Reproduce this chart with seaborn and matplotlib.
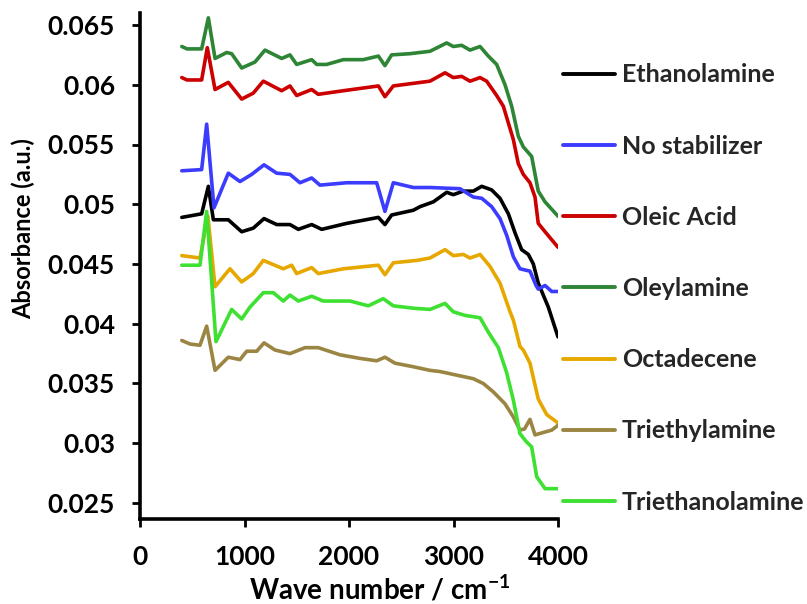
import numpy as np
import pandas as pd
import matplotlib
matplotlib.use("Agg")
import matplotlib.pyplot as plt
import seaborn as sns
from matplotlib.ticker import FuncFormatter

# ---------------- data ----------------
series_names = ["Ethanolamine", "No stabilizer", "Oleic Acid", "Oleylamine",
                "Octadecene", "Triethylamine", "Triethanolamine"]
series_colors = ["#000000", "#3C3CFF", "#CC0000", "#2E8535",
                 "#E6A800", "#9B8543", "#3EE032"]

ethanolamine_x = [400, 590, 654, 702, 845, 973, 1084, 1187, 1308, 1435, 1515, 1643, 1739, 1978,
                  2281, 2344, 2408, 2616, 2680, 2807, 2935, 2998, 3094, 3190, 3270, 3365, 3445,
                  3525, 3589, 3652, 3716, 3764, 3811, 3907, 4000]
ethanolamine_y = [0.0489, 0.0492, 0.0515, 0.0487, 0.0487, 0.0477, 0.0480, 0.0488, 0.0483, 0.0483,
                  0.0479, 0.0483, 0.0479, 0.0484, 0.0489, 0.0483, 0.0491, 0.0495, 0.0498, 0.0502,
                  0.0510, 0.0508, 0.0511, 0.0511, 0.0515, 0.0512, 0.0505, 0.0492, 0.0476, 0.0462,
                  0.0458, 0.0450, 0.0434, 0.0414, 0.0389]

nostab_x = [400, 590, 638, 708, 845, 957, 1069, 1187, 1308, 1435, 1531, 1643, 1722, 1978, 2265,
            2344, 2424, 2616, 2775, 3062, 3190, 3270, 3365, 3445, 3509, 3573, 3636, 3732, 3790,
            3811, 3876, 3940, 4000]
nostab_y = [0.0528, 0.0529, 0.0567, 0.0497, 0.0526, 0.0519, 0.0525, 0.0533, 0.0526, 0.0525,
            0.0518, 0.0522, 0.0516, 0.0518, 0.0518, 0.0494, 0.0518, 0.0514, 0.0514, 0.0513,
            0.0506, 0.0505, 0.0498, 0.0488, 0.0474, 0.0456, 0.0446, 0.0444, 0.0432, 0.0429,
            0.0432, 0.0427, 0.0427]

oleic_x = [400, 450, 590, 644, 718, 845, 973, 1084, 1180, 1356, 1435, 1499, 1643, 1706, 1946,
           2281, 2344, 2424, 2775, 2919, 2998, 3078, 3158, 3254, 3317, 3413, 3477, 3525, 3573,
           3620, 3668, 3732, 3780, 3811, 3876, 4000]
oleic_y = [0.0606, 0.0604, 0.0604, 0.0631, 0.0596, 0.0602, 0.0588, 0.0593, 0.0603, 0.0595,
           0.0599, 0.0591, 0.0596, 0.0592, 0.0595, 0.0599, 0.0590, 0.0599, 0.0603, 0.0610,
           0.0606, 0.0607, 0.0603, 0.0606, 0.0603, 0.0591, 0.0582, 0.0568, 0.0554, 0.0534,
           0.0525, 0.0518, 0.0506, 0.0484, 0.0477, 0.0464]

oleylamine_x = [400, 450, 590, 654, 718, 830, 877, 973, 1100, 1196, 1356, 1435, 1499, 1643, 1691,
                1786, 1946, 2137, 2281, 2344, 2408, 2584, 2775, 2935, 2998, 3078, 3158, 3254,
                3333, 3413, 3493, 3557, 3620, 3668, 3748, 3811, 3876, 4000]
oleylamine_y = [0.0632, 0.0630, 0.0630, 0.0656, 0.0622, 0.0627, 0.0626, 0.0614, 0.0619, 0.0629,
                0.0622, 0.0625, 0.0617, 0.0621, 0.0617, 0.0617, 0.0621, 0.0621, 0.0624, 0.0616,
                0.0625, 0.0626, 0.0628, 0.0635, 0.0632, 0.0633, 0.0629, 0.0632, 0.0624, 0.0617,
                0.0600, 0.0582, 0.0557, 0.0548, 0.0540, 0.0511, 0.0502, 0.0490]

octadecene_x = [400, 574, 650, 718, 861, 973, 1084, 1180, 1371, 1451, 1499, 1643, 1706, 1946,
                2281, 2344, 2424, 2648, 2775, 2919, 2998, 3094, 3158, 3254, 3349, 3445, 3541,
                3573, 3636, 3668, 3732, 3811, 3892, 4000]
octadecene_y = [0.0457, 0.0455, 0.0490, 0.0431, 0.0446, 0.0435, 0.0442, 0.0453, 0.0446, 0.0449,
                0.0442, 0.0447, 0.0442, 0.0446, 0.0449, 0.0441, 0.0451, 0.0453, 0.0455, 0.0462,
                0.0457, 0.0458, 0.0455, 0.0458, 0.0448, 0.0434, 0.0410, 0.0403, 0.0381, 0.0378,
                0.0367, 0.0337, 0.0324, 0.0317]

triethylamine_x = [400, 480, 574, 638, 718, 845, 957, 1021, 1117, 1187, 1292, 1435, 1579, 1706,
                   1914, 2105, 2265, 2344, 2440, 2616, 2775, 2871, 3030, 3190, 3285, 3381, 3493,
                   3573, 3636, 3680, 3732, 3780, 3859, 3940, 4000]
triethylamine_y = [0.0386, 0.0383, 0.0382, 0.0398, 0.0361, 0.0372, 0.0370, 0.0377, 0.0377,
                   0.0384, 0.0378, 0.0375, 0.0380, 0.0380, 0.0374, 0.0371, 0.0369, 0.0372,
                   0.0367, 0.0364, 0.0361, 0.0360, 0.0357, 0.0354, 0.0350, 0.0343, 0.0333,
                   0.0322, 0.0311, 0.0312, 0.0320, 0.0307, 0.0309, 0.0311, 0.0315]

triethanolamine_x = [400, 574, 638, 727, 877, 973, 1053, 1180, 1276, 1371, 1435, 1515, 1643, 1754,
                     2010, 2185, 2328, 2424, 2616, 2775, 2919, 2998, 3110, 3254, 3333, 3429, 3509,
                     3573, 3636, 3700, 3748, 3796, 3876, 4000]
triethanolamine_y = [0.0449, 0.0449, 0.0494, 0.0385, 0.0412, 0.0404, 0.0414, 0.0426, 0.0426,
                     0.0419, 0.0424, 0.0419, 0.0423, 0.0419, 0.0419, 0.0415, 0.0421, 0.0415,
                     0.0413, 0.0412, 0.0417, 0.0410, 0.0407, 0.0405, 0.0393, 0.0380, 0.0359,
                     0.0336, 0.0308, 0.0301, 0.0297, 0.0272, 0.0262, 0.0262]

x_ticks = [0, 1000, 2000, 3000, 4000]
y_ticks = [0.025, 0.03, 0.035, 0.04, 0.045, 0.05, 0.055, 0.06, 0.065]

# ---------------- build long table ----------------
xs = [ethanolamine_x, nostab_x, oleic_x, oleylamine_x, octadecene_x, triethylamine_x, triethanolamine_x]
ys = [ethanolamine_y, nostab_y, oleic_y, oleylamine_y, octadecene_y, triethylamine_y, triethanolamine_y]
frames = []
for name, xv, yv in zip(series_names, xs, ys):
    frames.append(pd.DataFrame({"Wave": xv, "Abs": yv, "Series": name}))
df = pd.concat(frames, ignore_index=True)

# ---------------- style ----------------
sns.set_theme(style="white")
plt.rcParams["font.family"] = ["Lato", "DejaVu Sans"]
plt.rcParams["font.weight"] = "bold"
plt.rcParams["mathtext.fontset"] = "custom"
plt.rcParams["mathtext.rm"] = "Lato:bold"
plt.rcParams["mathtext.bf"] = "Lato:bold"
plt.rcParams["mathtext.it"] = "Lato:bold"

fig = plt.figure(figsize=(8.07, 6.04), dpi=100)
ax_h = 519 - 13
ax_w = 558 - 140
ax = fig.add_axes([140 / 807, 1 - 519 / 604, ax_w / 807, ax_h / 604])

sns.lineplot(data=df, x="Wave", y="Abs", hue="Series", hue_order=series_names,
             palette=series_colors, estimator=None, sort=False, linewidth=2.6, ax=ax)

ax.set_xlim(0, 4000)
ax.set_ylim(0.025 - 16 / 11950, 0.065 + 12 / 11950)
ax.set_xticks(x_ticks)
ax.set_yticks(y_ticks)
ax.xaxis.set_major_formatter(FuncFormatter(lambda v, p: f"{v:g}"))
ax.yaxis.set_major_formatter(FuncFormatter(lambda v, p: f"{v:g}"))

for s in ["top", "right"]:
    ax.spines[s].set_visible(False)
for s in ["left", "bottom"]:
    ax.spines[s].set_color("black")
    ax.spines[s].set_linewidth(2.6)

ax.tick_params(axis="both", which="major", direction="out", length=6, width=2,
               color="black", labelsize=19, labelcolor="black", left=True, bottom=True)
ax.tick_params(axis="y", pad=12)
ax.tick_params(axis="x", pad=13)
for lab in ax.get_xticklabels() + ax.get_yticklabels():
    lab.set_fontweight("bold")

ax.set_xlabel(r"Wave number / cm$^{-1}$", fontsize=20, fontweight="bold", color="black")
ax.xaxis.set_label_coords((380 - 140) / ax_w, -(574 - 519) / ax_h)
ax.set_ylabel("Absorbance (a.u.)", fontsize=17, fontweight="bold", color="black")
ax.yaxis.set_label_coords((35 - 140) / ax_w, (519 - 228.5) / ax_h)

leg = ax.legend(loc="center left", bbox_to_anchor=(563 / 807, 1 - 288.5 / 604),
                bbox_transform=fig.transFigure, frameon=False, borderpad=0, borderaxespad=0,
                handlelength=2.08, handletextpad=0.28, labelspacing=1.93,
                prop={"family": ["Lato", "DejaVu Sans"], "weight": "bold", "size": 18})
for line in leg.get_lines():
    line.set_linewidth(2.8)

fig.savefig("out.png", dpi=100)
